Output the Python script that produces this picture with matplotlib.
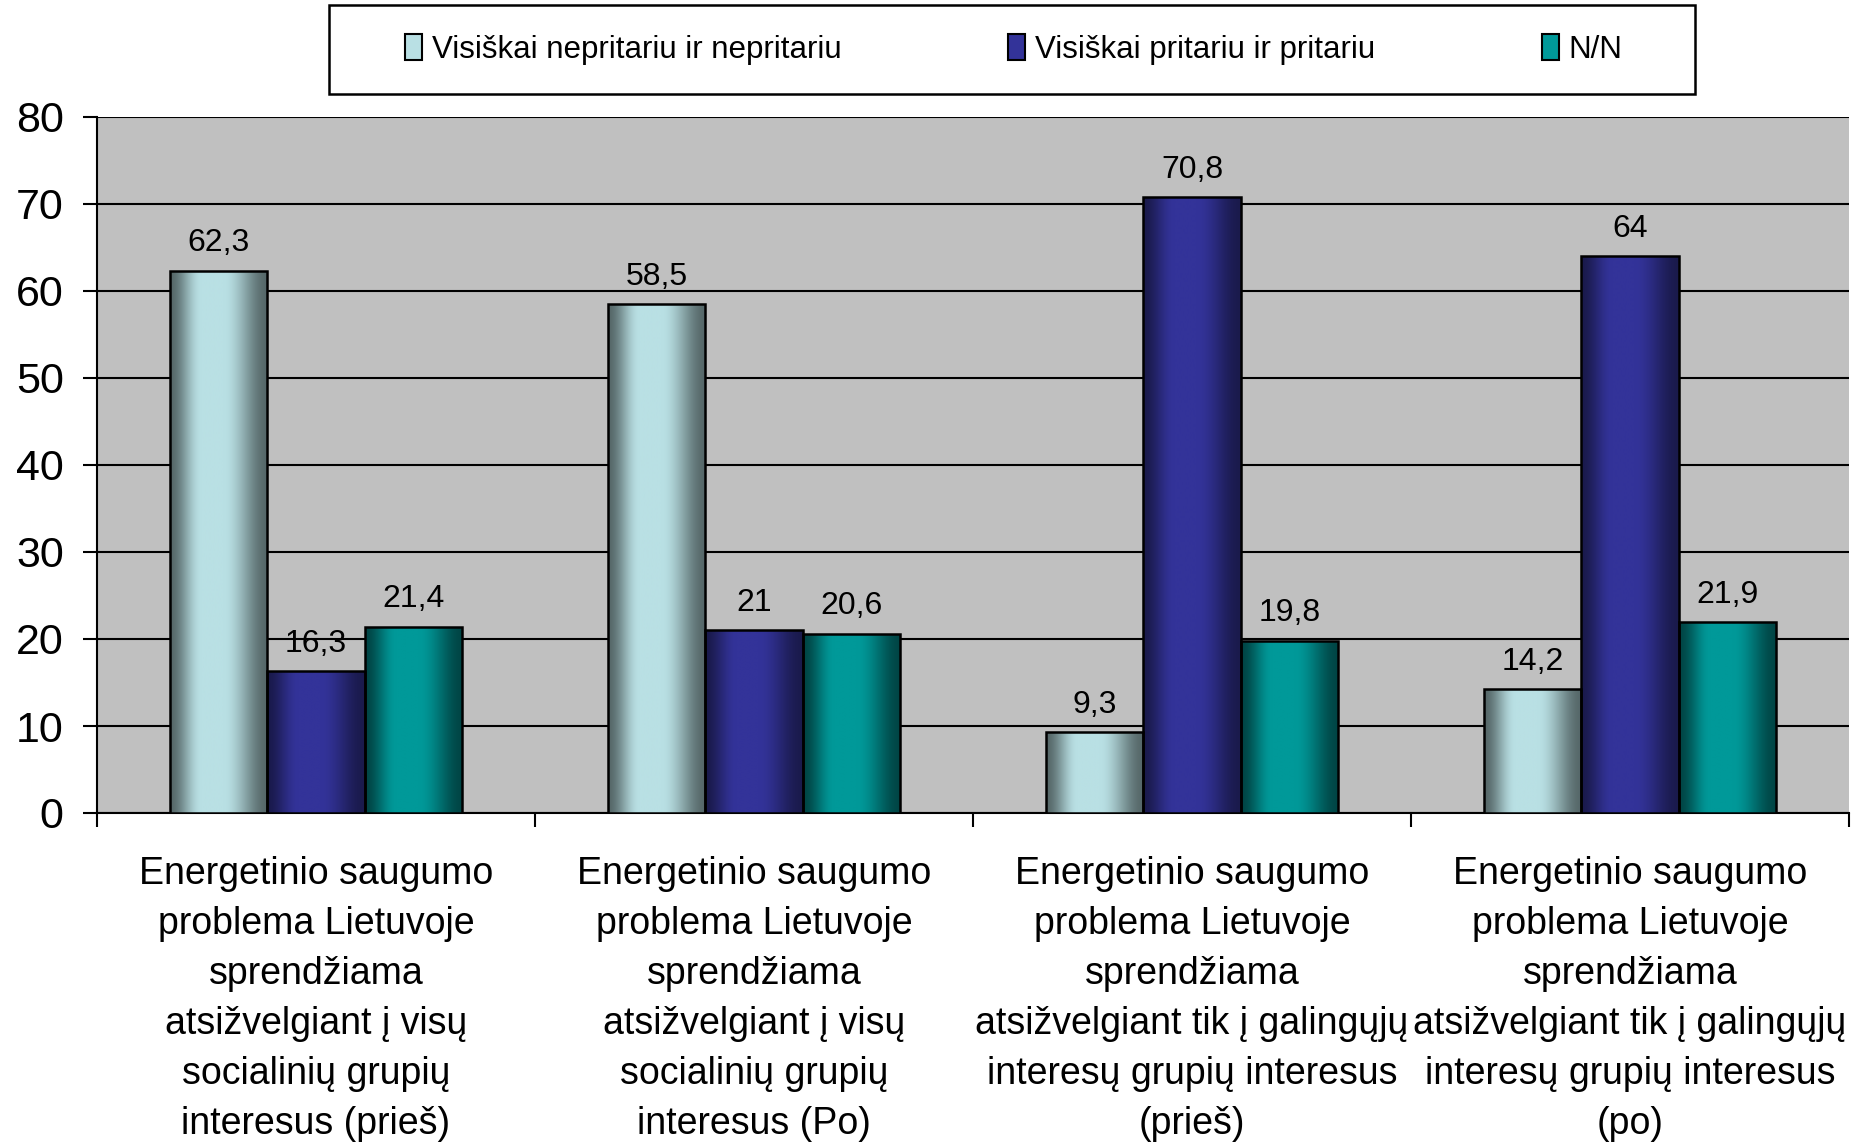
import numpy as np
import matplotlib
matplotlib.use("Agg")
import matplotlib.pyplot as plt
from matplotlib.colors import to_rgb
from matplotlib.patches import Patch, Rectangle

plt.rcParams['font.family'] = ['Liberation Sans', 'DejaVu Sans']

categories = [
    "Energetinio saugumo\nproblema Lietuvoje\nsprendžiama\natsižvelgiant į visų\nsocialinių grupių\ninteresus (prieš)",
    "Energetinio saugumo\nproblema Lietuvoje\nsprendžiama\natsižvelgiant į visų\nsocialinių grupių\ninteresus (Po)",
    "Energetinio saugumo\nproblema Lietuvoje\nsprendžiama\natsižvelgiant tik į galingųjų\ninteresų grupių interesus\n(prieš)",
    "Energetinio saugumo\nproblema Lietuvoje\nsprendžiama\natsižvelgiant tik į galingųjų\ninteresų grupių interesus\n(po)",
]
series_names = ["Visiškai nepritariu ir nepritariu", "Visiškai pritariu ir pritariu", "N/N"]
nepritariu = [62.3, 58.5, 9.3, 14.2]
pritariu = [16.3, 21, 70.8, 64]
nn = [21.4, 20.6, 19.8, 21.9]
series_values = [nepritariu, pritariu, nn]
y_ticks = [0, 10, 20, 30, 40, 50, 60, 70, 80]

center_colors = ["#b9e0e4", "#333399", "#009999"]
edge_colors = ["#566869", "#1a1a4c", "#004545"]

W, H = 1856, 1145
fig = plt.figure(figsize=(W / 100, H / 100), dpi=100)
ax = fig.add_axes([97/W, 1 - 813/H, (1849 - 97)/W, (813 - 117)/H])
ax.set_facecolor("#c0c0c0")

width = 1 / 4.5
x = np.arange(len(categories))
offsets = [-width, 0, width]

t = np.linspace(0, 1, 256)
m = np.interp(t, [0, 0.32, 0.55, 1], [0, 1, 1, 0])
m = m * m * (3 - 2 * m)

for vals, off, cc, ec in zip(series_values, offsets, center_colors, edge_colors):
    bars = ax.bar(x + off, vals, width, color=cc, edgecolor='none', zorder=3)
    c = np.array(to_rgb(cc)); e = np.array(to_rgb(ec))
    img = (e[None, :] + (c - e)[None, :] * m[:, None]).reshape(1, -1, 3)
    for p in bars.patches:
        x0, w, h = p.get_x(), p.get_width(), p.get_height()
        im = ax.imshow(img, extent=(x0, x0 + w, 0, h), aspect='auto',
                       zorder=3.1, interpolation='bilinear')
        im.set_clip_path(p)
    ax.bar(x + off, vals, width, fill=False, edgecolor='black', linewidth=1.8, zorder=3.2)
    for xi, v in zip(x + off, vals):
        ax.annotate(f"{v:g}".replace('.', ','), (xi, v), xytext=(0, 9),
                    textcoords='offset points', ha='center', va='bottom',
                    fontsize=23, zorder=4)

ax.set_xlim(-0.5, len(categories) - 0.5)
ax.set_ylim(0, 80)
ax.set_yticks(y_ticks)
ax.yaxis.grid(True, color='black', linewidth=1.5)
ax.set_axisbelow(True)
ax.tick_params(axis='y', labelsize=31, length=10, width=1.5, pad=14, color='black')

ax.set_xticks(x)
ax.set_xticklabels(categories, fontsize=27, linespacing=1.50)
ax.set_xticks(np.arange(len(categories) + 1) - 0.5, minor=True)
ax.tick_params(axis='x', which='major', length=0, pad=31)
ax.tick_params(axis='x', which='minor', length=10, width=1.5, color='black')

for s in ['top', 'right']:
    ax.spines[s].set_visible(False)
for s in ['left', 'bottom']:
    ax.spines[s].set_color('black')
    ax.spines[s].set_linewidth(1.5)

# legend frame
fig.patches.append(Rectangle((329/W, 1 - 94/H), (1695 - 329)/W, 89/H,
                             transform=fig.transFigure, facecolor='white',
                             edgecolor='black', linewidth=1.8, zorder=0))
handles = [Patch(facecolor=cc, edgecolor='black', linewidth=1.5) for cc in center_colors]
leg = fig.legend(handles, series_names, loc='center',
                 bbox_to_anchor=(405/W, 1 - 94/H, (1622 - 405)/W, 89/H),
                 mode='expand', ncol=3, frameon=False,
                 fontsize=22.5, handlelength=0.55, handleheight=0.9,
                 handletextpad=0.3, borderaxespad=0, borderpad=0)

fig.savefig("out.png", dpi=100)
